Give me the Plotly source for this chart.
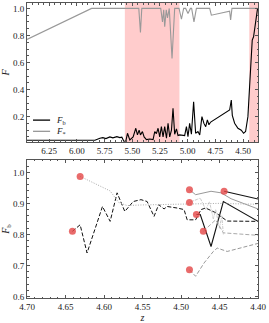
import plotly.graph_objects as go

# ---------------- top panel data ----------------
z_star = [6.450, 5.867, 5.441, 5.426, 5.414, 5.243, 5.227, 5.216, 5.207, 5.193, 5.182, 5.166,
          5.141, 5.117, 5.078, 5.056, 5.036, 5.018, 4.997, 4.975, 4.964, 4.943, 4.921, 4.801,
          4.786, 4.621, 4.612, 4.600, 4.369]
F_star = [0.771, 1.000, 1.000, 0.823, 1.000, 1.000, 0.900, 0.990, 0.864, 0.990, 0.930, 1.000,
          0.630, 1.000, 1.000, 0.920, 1.000, 1.000, 0.963, 1.000, 1.000, 0.900, 1.000, 1.000,
          0.950, 0.980, 0.914, 1.000, 1.000]

z_b = [6.450, 5.837, 5.792, 5.765, 5.738, 5.702, 5.675, 5.639, 5.612, 5.594, 5.576, 5.558,
       5.543, 5.522, 5.492, 5.468, 5.453, 5.438, 5.426, 5.408, 5.393, 5.372, 5.342, 5.312,
       5.297, 5.282, 5.267, 5.252, 5.237, 5.222, 5.207, 5.191, 5.177, 5.162, 5.146, 5.132,
       5.117, 5.101, 5.087, 5.072, 5.027, 5.011, 4.997, 4.982, 4.966, 4.946, 4.928, 4.907,
       4.891, 4.871, 4.853, 4.837, 4.822, 4.808, 4.792, 4.621, 4.606, 4.597, 4.576, 4.546,
       4.516, 4.495, 4.477, 4.456, 4.441, 4.426, 4.417, 4.405, 4.387, 4.369]
F_b = [0.025, 0.025, 0.040, 0.045, 0.038, 0.050, 0.043, 0.052, 0.045, 0.048, 0.018, 0.020,
       0.077, 0.028, 0.050, 0.114, 0.065, 0.100, 0.065, 0.089, 0.050, 0.030, 0.035, 0.030,
       0.090, 0.075, 0.114, 0.050, 0.126, 0.050, 0.126, 0.040, 0.151, 0.050, 0.100, 0.262,
       0.070, 0.110, 0.060, 0.065, 0.060, 0.126, 0.052, 0.150, 0.070, 0.310, 0.077, 0.090,
       0.065, 0.200, 0.150, 0.126, 0.176, 0.140, 0.160, 0.249, 0.323, 0.210, 0.151, 0.114,
       0.100, 0.077, 0.090, 0.200, 0.420, 0.717, 0.766, 0.790, 0.914, 1.000]

shade_regions = [(5.567, 5.074), (4.444, 4.365)]

legend_labels = ["<i>F</i><sub>b</sub>", "<i>F</i><sub>*</sub>"]

# ---------------- bottom panel data ----------------
zA = [4.641, 4.631, 4.622, 4.602, 4.592, 4.583, 4.573, 4.562, 4.552, 4.544, 4.535, 4.529,
      4.522, 4.518, 4.505, 4.496, 4.492, 4.481, 4.474, 4.468, 4.455, 4.440, 4.400]
FA = [0.810, 0.831, 0.740, 0.890, 0.842, 0.934, 0.874, 0.906, 0.912, 0.906, 0.858, 0.896,
      0.882, 0.890, 0.885, 0.880, 0.847, 0.847, 0.880, 0.885, 0.870, 0.843, 0.842]
zB = [4.480, 4.475, 4.461, 4.445, 4.400]
FB = [0.864, 0.864, 0.761, 0.906, 0.842]
zC = [4.444, 4.400]
FC = [0.939, 0.914]
zD = [4.489, 4.481, 4.461, 4.448, 4.435, 4.400]
FD = [0.944, 0.928, 0.939, 0.934, 0.915, 0.882]
zE = [4.471, 4.462, 4.455, 4.445, 4.400]
FE = [0.810, 0.830, 0.847, 0.805, 0.797]
zF = [4.489, 4.481, 4.470, 4.458, 4.453, 4.440, 4.400]
FF = [0.686, 0.665, 0.708, 0.745, 0.756, 0.745, 0.771]
zG = [4.631, 4.592, 4.581, 4.570, 4.550, 4.500, 4.450, 4.400]
FG = [0.987, 0.940, 0.903, 0.893, 0.895, 0.897, 0.900, 0.897]
zH = [4.489, 4.475, 4.468, 4.463, 4.458, 4.455, 4.450, 4.447, 4.445]
FH = [0.903, 0.917, 0.880, 0.905, 0.850, 0.880, 0.820, 0.860, 0.800]

z_start = [4.631, 4.641, 4.489, 4.444, 4.489, 4.480, 4.471, 4.489]
F_start = [0.987, 0.810, 0.944, 0.939, 0.903, 0.864, 0.810, 0.686]

FONT = "Liberation Serif"
C_B = "black"
C_S = "#999999"
fig = go.Figure()

fig.add_trace(go.Scatter(x=z_b, y=F_b, mode="lines", showlegend=False,
                         line=dict(color=C_B, width=1.1), xaxis="x", yaxis="y"))
fig.add_trace(go.Scatter(x=z_star, y=F_star, mode="lines", showlegend=False,
                         line=dict(color=C_S, width=1.1), xaxis="x", yaxis="y"))

tracks = [
    (zA, FA, "#111111", "4px,2px", 1.0),
    (zB, FB, "#111111", "solid", 1.1),
    (zC, FC, "#111111", "solid", 1.1),
    (zD, FD, "#999999", "solid", 1.0),
    (zE, FE, "#aaaaaa", "4px,2px", 1.0),
    (zF, FF, "#999999", "4px,2px", 1.0),
    (zG, FG, "#aaaaaa", "1px,1.5px", 1.0),
    (zH, FH, "#bbbbbb", "3px,1px,1px,1px", 0.8),
]
for zz, ff, col, dash, w in tracks:
    fig.add_trace(go.Scatter(x=zz, y=ff, mode="lines", showlegend=False,
                             line=dict(color=col, dash=dash, width=w),
                             xaxis="x2", yaxis="y2"))
fig.add_trace(go.Scatter(x=z_start, y=F_start, mode="markers", showlegend=False,
                         marker=dict(color="rgba(228,70,70,0.8)", size=7),
                         xaxis="x2", yaxis="y2"))

for x0, x1 in shade_regions:
    fig.add_shape(type="rect", xref="x", yref="y domain", x0=x0, x1=x1, y0=0, y1=1,
                  fillcolor="rgba(255,0,0,0.2)", line=dict(width=0), layer="below")

# manual legend (top panel, lower left)
for i, (lab, col) in enumerate(zip(legend_labels, [C_B, C_S])):
    yy = 0.603 - i * 0.038
    fig.add_shape(type="line", xref="paper", yref="paper", x0=0.026, x1=0.100, y0=yy, y1=yy,
                  line=dict(color=col, width=1.3))
    fig.add_annotation(xref="paper", yref="paper", x=0.118, y=yy, text=lab, showarrow=False,
                       xanchor="left", yanchor="middle", font=dict(family=FONT, size=9, color="#222"))

def ax(**kw):
    d = dict(showline=True, linecolor="#555", linewidth=1, mirror="allticks", automargin=False,
             ticks="inside", ticklen=3, tickcolor="#555", showgrid=False, zeroline=False,
             tickfont=dict(family=FONT, size=9, color="#222"))
    d.update(kw)
    return d

fig.update_layout(
    width=269, height=323,
    margin=dict(l=27, r=11, t=3, b=25),
    paper_bgcolor="white", plot_bgcolor="white",
    showlegend=False,
    font=dict(family=FONT, size=9, color="#222"),
    xaxis=ax(domain=[0, 1], range=[6.45, 4.365], anchor="y", dtick=0.25, tick0=4.5,
             tickformat=".2f", minor=dict(ticks="inside", ticklen=1.5, tickcolor="#555", dtick=0.05)),
    yaxis=ax(domain=[0.529, 1], range=[0.013, 1.04], anchor="x", dtick=0.2, tick0=0,
             tickformat=".1f", minor=dict(ticks="inside", ticklen=1.5, tickcolor="#555", dtick=0.05),
             title=dict(text="<i>F</i>", standoff=5, font=dict(family=FONT, size=10))),
    xaxis2=ax(domain=[0, 1], range=[4.70, 4.40], anchor="y2", dtick=0.05, tick0=4.4,
              tickformat=".2f", minor=dict(ticks="inside", ticklen=1.5, tickcolor="#555", dtick=0.01),
              title=dict(text="<i>z</i>", standoff=0, font=dict(family=FONT, size=10))),
    yaxis2=ax(domain=[0, 0.468], range=[0.595, 1.04], anchor="x2", dtick=0.1, tick0=0,
              tickformat=".1f", minor=dict(ticks="inside", ticklen=1.5, tickcolor="#555", dtick=0.02),
              title=dict(text="<i>F</i><sub>b</sub>", standoff=5, font=dict(family=FONT, size=10))),
)

fig.write_html("out.html", config={"displayModeBar": False},
               post_script="document.body.style.margin='0';document.body.style.padding='0';")
